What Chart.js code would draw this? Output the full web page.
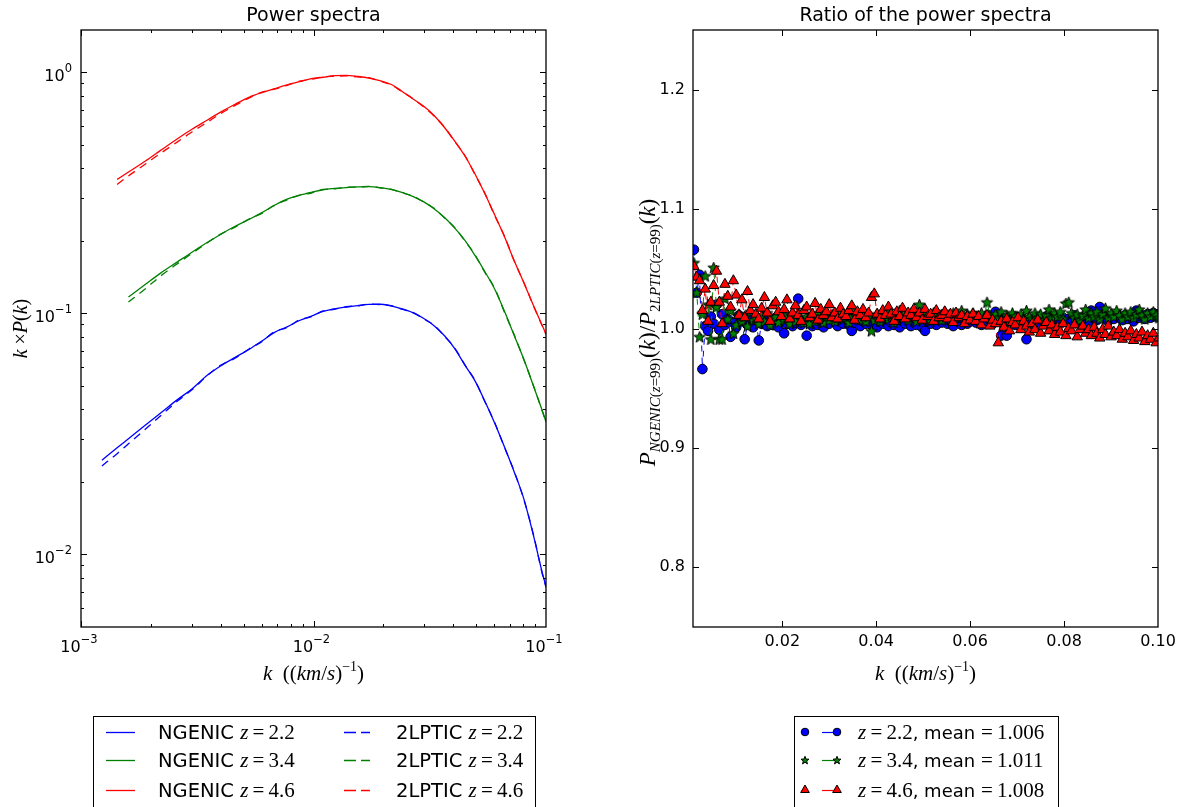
<!DOCTYPE html>
<html><head><meta charset="utf-8">
<script src="https://cdn.jsdelivr.net/npm/chart.js@4/dist/chart.umd.min.js"></script>
<style>
html,body{margin:0;padding:0;background:#fff;}
#wrap{position:relative;width:1187px;height:807px;overflow:hidden;background:#fff;}
canvas{position:absolute;top:0;}
#c1{left:0;width:600px;height:807px;}
#c2{left:600px;width:587px;height:807px;}
</style></head><body>
<div id="wrap"><canvas id="c1" width="600" height="807"></canvas><canvas id="c2" width="587" height="807"></canvas></div>
<script>
// ---------- data: power spectra (left panel) ----------
const kSpec = [0.00123,0.00143,0.0016,0.0019,0.0022,0.0026,0.003,0.0035,0.004,0.0046,0.0053,0.006,0.0068,0.0077,0.0087,0.0098,0.011,0.0123,0.0138,0.0155,0.0173,0.0193,0.0215,0.024,0.0267,0.0297,0.033,0.0366,0.0405,0.0448,0.0495,0.0546,0.0602,0.0663,0.073,0.0803,0.0883,0.097,0.1];
const ngenic22 = [0.0246,0.0277,0.0302,0.0345,0.0386,0.0439,0.0486,0.0555,0.0607,0.0657,0.0711,0.0769,0.0835,0.0880,0.0935,0.0975,0.1020,0.1045,0.1063,0.1078,0.1090,0.1092,0.1075,0.1045,0.1008,0.0955,0.0890,0.0808,0.0715,0.0610,0.0525,0.0432,0.0350,0.0279,0.0220,0.0170,0.0120,0.0082,0.0074];
const lptic22  = [0.0233,0.0262,0.0288,0.0332,0.0376,0.0433,0.0482,0.0553,0.0611,0.0652,0.0714,0.0764,0.0840,0.0874,0.0940,0.0970,0.1024,0.1041,0.1066,0.1075,0.1093,0.1089,0.1078,0.1041,0.1011,0.0951,0.0893,0.0804,0.0718,0.0612,0.0528,0.0430,0.0352,0.0278,0.0221,0.0169,0.0121,0.0081,0.0073];
const ngenic34 = [null,null,0.117,0.1325,0.147,0.1637,0.1795,0.1973,0.2132,0.230,0.246,0.262,0.281,0.298,0.309,0.318,0.326,0.330,0.333,0.335,0.336,0.333,0.327,0.318,0.306,0.291,0.272,0.250,0.226,0.201,0.174,0.149,0.126,0.102,0.081,0.0645,0.050,0.0388,0.0355];
const lptic34  = [null,null,0.1115,0.127,0.143,0.161,0.1775,0.1965,0.2140,0.228,0.247,0.260,0.282,0.296,0.310,0.316,0.327,0.329,0.334,0.334,0.337,0.332,0.328,0.317,0.307,0.290,0.273,0.249,0.227,0.200,0.175,0.148,0.127,0.101,0.0815,0.0642,0.0502,0.0386,0.0354];
const ngenic46 = [null,0.360,0.386,0.430,0.475,0.531,0.581,0.635,0.686,0.738,0.790,0.825,0.857,0.889,0.915,0.942,0.955,0.970,0.972,0.962,0.948,0.925,0.893,0.836,0.778,0.725,0.663,0.591,0.519,0.450,0.379,0.314,0.256,0.208,0.1655,0.134,0.108,0.0878,0.082];
const lptic46  = [null,0.343,0.372,0.418,0.462,0.515,0.566,0.622,0.676,0.730,0.784,0.828,0.852,0.884,0.920,0.936,0.958,0.964,0.968,0.958,0.951,0.921,0.890,0.832,0.780,0.720,0.660,0.593,0.517,0.452,0.377,0.315,0.254,0.209,0.165,0.1345,0.1075,0.0875,0.0818];

// ---------- data: ratio (right panel) ----------
const kRatio = [
0.0012,0.0018,0.0024,0.0030,0.0036,0.0042,0.0048,0.0054,0.0060,0.0066,
0.0072,0.0078,0.0084,0.0090,0.0096,0.0102,0.0108,0.0114,0.0120,0.0126,
0.0132,0.0138,0.0144,0.0150,0.0156,0.0162,0.0168,0.0174,0.0180,0.0186,
0.0192,0.0198,0.0204,0.0210,0.0216,0.0222,0.0228,0.0234,0.0240,0.0246,
0.0252,0.0258,0.0264,0.0270,0.0276,0.0282,0.0288,0.0294,0.0300,0.0306,
0.0312,0.0318,0.0324,0.0330,0.0336,0.0342,0.0348,0.0354,0.0360,0.0366,
0.0372,0.0378,0.0384,0.0390,0.0396,0.0402,0.0408,0.0414,0.0420,0.0426,
0.0432,0.0438,0.0444,0.0450,0.0456,0.0462,0.0468,0.0474,0.0480,0.0486,
0.0492,0.0498,0.0504,0.0510,0.0516,0.0522,0.0528,0.0534,0.0540,0.0546,
0.0552,0.0558,0.0564,0.0570,0.0576,0.0582,0.0588,0.0594,0.0600,0.0606,
0.0612,0.0618,0.0624,0.0630,0.0636,0.0642,0.0648,0.0654,0.0660,0.0666,
0.0672,0.0678,0.0684,0.0690,0.0696,0.0702,0.0708,0.0714,0.0720,0.0726,
0.0732,0.0738,0.0744,0.0750,0.0756,0.0762,0.0768,0.0774,0.0780,0.0786,
0.0792,0.0798,0.0804,0.0810,0.0816,0.0822,0.0828,0.0834,0.0840,0.0846,
0.0852,0.0858,0.0864,0.0870,0.0876,0.0882,0.0888,0.0894,0.0900,0.0906,
0.0912,0.0918,0.0924,0.0930,0.0936,0.0942,0.0948,0.0954,0.0960,0.0966,
0.0972,0.0978,0.0984,0.0990,0.0996,0.1002];
const ratio22 = [
1.066,1.030,1.045,0.966,1.002,0.998,1.010,1.004,1.020,0.999,
1.012,1.003,1.008,0.993,1.005,1.001,1.011,1.006,0.991,1.003,
1.009,1.001,1.007,0.990,1.004,1.008,1.002,1.006,1.003,1.009,
1.001,1.007,0.996,1.004,1.008,1.002,1.005,1.025,1.003,1.006,
0.994,1.006,1.002,1.009,1.003,1.007,1.001,1.005,1.004,1.010,
1.006,1.002,1.007,1.004,1.008,1.003,0.998,1.005,1.007,1.002,
1.006,1.004,1.008,1.003,1.007,1.001,1.006,1.004,1.009,1.002,
1.005,1.003,1.007,1.001,1.006,1.004,1.009,1.002,1.005,1.003,
1.007,1.001,0.998,1.006,1.004,1.008,1.003,1.007,1.005,1.009,
1.004,1.006,1.002,1.008,1.005,1.003,1.007,1.004,1.006,1.009,
1.005,1.008,1.003,1.006,1.011,1.007,1.004,1.014,1.008,0.994,
1.004,0.994,1.008,1.006,1.003,1.009,1.005,1.007,0.991,1.004,
1.007,1.005,1.009,1.004,1.006,1.010,1.003,1.008,1.005,1.007,
1.004,1.009,1.006,1.008,1.005,1.011,1.007,1.009,1.004,1.008,
1.006,1.015,1.009,1.007,1.018,1.011,1.008,1.006,1.010,1.008,
1.012,1.009,1.007,1.011,1.008,1.010,1.006,1.015,1.009,1.011,
1.008,1.012,1.009,1.013,1.010,1.012];
const ratio34 = [
1.055,1.030,0.993,1.012,1.044,1.020,0.991,1.051,1.018,0.991,
0.991,1.025,1.008,1.015,0.996,1.003,1.012,1.006,1.010,1.002,
1.014,1.007,1.009,1.004,1.011,1.006,1.013,1.003,1.008,1.010,
1.005,1.012,1.007,1.009,1.004,1.011,1.006,1.013,1.008,1.005,
1.010,1.004,1.011,1.006,1.013,1.008,1.005,1.010,1.007,1.012,
1.006,1.009,1.014,1.008,1.011,1.005,1.010,1.015,1.009,1.007,
1.012,1.006,1.010,0.998,1.007,1.012,1.006,1.009,1.014,1.008,
1.011,1.005,1.010,1.015,1.009,1.012,1.007,1.013,1.010,1.006,
1.020,1.007,1.012,1.010,1.006,1.013,1.009,1.011,1.007,1.014,
1.010,1.008,1.013,1.009,1.011,1.015,1.007,1.012,1.009,1.013,
1.010,1.008,1.013,1.009,1.022,1.011,1.007,1.012,1.009,1.014,
1.008,1.011,1.006,1.013,1.010,1.007,1.012,1.009,1.015,1.010,
1.008,1.013,1.009,1.012,1.007,1.011,1.016,1.009,1.013,1.010,
1.014,1.008,1.021,1.022,1.013,1.009,1.012,1.007,1.011,1.016,
1.009,1.013,1.010,1.014,1.008,1.012,1.017,1.009,1.013,1.010,
1.015,1.011,1.008,1.013,1.010,1.014,1.009,1.012,1.016,1.011,
1.008,1.013,1.010,1.014,1.011,1.009];
const ratio46 = [
1.052,1.043,1.040,1.015,1.033,1.006,1.022,1.036,1.048,1.022,
1.004,1.037,1.027,1.018,1.040,1.028,1.011,1.024,1.009,1.031,
1.015,1.020,1.012,1.008,1.017,1.026,1.013,1.006,1.019,1.022,
1.014,1.010,1.016,1.024,1.008,1.013,1.019,1.011,1.006,1.015,
1.018,1.009,1.012,1.021,1.007,1.016,1.011,1.014,1.020,1.009,
1.013,1.008,1.017,1.012,1.010,1.015,1.019,1.007,1.014,1.011,
1.016,1.009,1.013,1.026,1.029,1.012,1.008,1.015,1.011,1.018,
1.012,1.006,1.014,1.010,1.017,1.008,1.013,1.011,1.016,1.009,
1.013,1.007,1.016,1.010,1.012,1.006,1.015,1.009,1.011,1.014,
1.008,1.012,1.005,1.013,1.009,1.011,1.004,1.010,1.007,1.012,
1.006,1.010,1.003,1.008,1.011,1.002,1.007,1.004,0.988,1.006,
1.001,1.008,0.998,1.005,1.003,1.009,0.999,1.006,1.002,0.997,
1.004,0.999,1.007,0.996,1.002,1.005,0.998,1.003,0.995,1.001,
0.997,1.004,0.994,1.000,0.998,1.003,0.993,0.999,1.002,0.996,
0.999,0.994,1.001,0.996,0.992,0.999,0.995,1.002,0.993,0.997,
0.994,0.999,0.991,0.996,0.993,0.998,0.990,0.995,0.992,0.997,
0.989,0.994,0.991,0.996,0.988,0.992];

// ---------- labels / ticks ----------
const zLabels = ['2.2','3.4','4.6'];
const meanLabels = ['1.006','1.011','1.008'];
const specXTicks = [0.001,0.01,0.1];
const specXExp = ['\u22123','\u22122','\u22121'];
const specYTicks = [0.01,0.1,1];
const specYExp = ['\u22122','\u22121','0'];
const specXMinor = [0.002,0.003,0.004,0.005,0.006,0.007,0.008,0.009,0.02,0.03,0.04,0.05,0.06,0.07,0.08,0.09];
const specYMinor = [0.006,0.007,0.008,0.009,0.02,0.03,0.04,0.05,0.06,0.07,0.08,0.09,0.2,0.3,0.4,0.5,0.6,0.7,0.8,0.9];
const ratXTicks = [0.02,0.04,0.06,0.08,0.10];
const ratXTickLabels = ['0.02','0.04','0.06','0.08','0.10'];
const ratYTicks = [0.8,0.9,1.0,1.1,1.2];
const ratYTickLabels = ['0.8','0.9','1.0','1.1','1.2'];

// ---------- styling ----------
const BLUE='#0000ff', GREEN='#008000', RED='#ff0000';
const SANSF = 'DejaVu Sans';
const SERIF = '"Liberation Serif", "DejaVu Serif", serif';
const fI = s => `italic ${s}px ${SERIF}`;
const fR = s => `${s}px ${SERIF}`;
const fS = s => `${s}px "DejaVu Sans", sans-serif`;

function pts(xs, ys){ return xs.map((x,i)=>({x:x, y:ys[i]})); }

function starCanvas(r){
  const s = Math.ceil(r*2+3);
  const c = document.createElement('canvas'); c.width=s; c.height=s;
  const g = c.getContext('2d'); const cx=s/2, cy=s/2+0.5;
  g.beginPath();
  for(let i=0;i<10;i++){ const rr = (i%2)? r*0.42 : r; const a = -Math.PI/2 + i*Math.PI/5; g.lineTo(cx+rr*Math.cos(a), cy+rr*Math.sin(a)); }
  g.closePath(); g.fillStyle=GREEN; g.fill(); g.strokeStyle='#000'; g.lineWidth=1; g.stroke();
  return c;
}
const starBig = starCanvas(6), starSmall = starCanvas(4.2);

function segW(ctx, segs){ let w=0; for(const s of segs){ ctx.font=s.f; w+=ctx.measureText(s.t).width; } return w; }
function rich(ctx, segs, x, y, align){
  const w = segW(ctx, segs);
  let cx = align==='center' ? x-w/2 : (align==='right' ? x-w : x);
  ctx.textAlign='left'; ctx.textBaseline='alphabetic';
  for(const s of segs){ ctx.font=s.f; ctx.fillText(s.t, cx, y+(s.dy||0)); cx += ctx.measureText(s.t).width; }
}

function frameTicks(chart, xMaj, xMin, yMaj, yMin){
  const {ctx, chartArea:a, scales:{x, y}} = chart;
  ctx.save(); ctx.strokeStyle='#000'; ctx.lineWidth=1; ctx.setLineDash([]);
  ctx.beginPath();
  const vt=(vals,len)=>{ for(const v of vals){ const p=Math.round(x.getPixelForValue(v))+0.5; if(p<a.left||p>a.right) continue; ctx.moveTo(p,a.bottom); ctx.lineTo(p,a.bottom-len); ctx.moveTo(p,a.top); ctx.lineTo(p,a.top+len);} };
  const ht=(vals,len)=>{ for(const v of vals){ const p=Math.round(y.getPixelForValue(v))+0.5; if(p<a.top||p>a.bottom) continue; ctx.moveTo(a.left,p); ctx.lineTo(a.left+len,p); ctx.moveTo(a.right,p); ctx.lineTo(a.right-len,p);} };
  vt(xMaj,6); vt(xMin,3); ht(yMaj,6); ht(yMin,3);
  ctx.stroke();
  ctx.lineWidth=1.3;
  ctx.strokeRect(a.left, a.top, a.right-a.left, a.bottom-a.top);
  ctx.restore();
}

const xLabelSegs = [{t:'k',f:fI(21)},{t:'  ((',f:fR(21)},{t:'km',f:fI(21)},{t:'/',f:fR(21)},{t:'s',f:fI(21)},{t:')',f:fR(21)},{t:'\u22121',f:fR(14),dy:-9},{t:')',f:fR(21)}];

const deco1 = {
  id:'deco1',
  afterDatasetsDraw(chart){ frameTicks(chart, specXTicks, specXMinor, specYTicks, specYMinor); },
  afterDraw(chart){
    const ctx = chart.ctx, a = chart.chartArea, sx = chart.scales.x, sy = chart.scales.y;
    ctx.save(); ctx.fillStyle='#000';
    specXTicks.forEach((v,i)=>{ rich(ctx, [{t:'10',f:fS(16)},{t:specXExp[i],f:fS(11.5),dy:-9}], sx.getPixelForValue(v)-2, 652, 'center'); });
    specYTicks.forEach((v,i)=>{ const p=sy.getPixelForValue(v); rich(ctx, [{t:'10',f:fS(16)},{t:specYExp[i],f:fS(11.5),dy:-9}], a.left-9, p+9, 'right'); });
    ctx.font = fS(19); ctx.textAlign='center'; ctx.textBaseline='alphabetic';
    ctx.fillText('Power spectra', (a.left+a.right)/2, 21);
    rich(ctx, xLabelSegs, (a.left+a.right)/2, 680, 'center');
    ctx.save(); ctx.translate(27, (a.top+a.bottom)/2); ctx.rotate(-Math.PI/2);
    rich(ctx, [{t:'k',f:fI(20)},{t:' \u00D7',f:fR(20)},{t:'P',f:fI(20)},{t:'(',f:fR(20)},{t:'k',f:fI(20)},{t:')',f:fR(20)}], 0, 0, 'center');
    ctx.restore();
    // legend
    ctx.fillStyle='#fff'; ctx.fillRect(93,716,442,120);
    ctx.strokeStyle='#000'; ctx.lineWidth=1; ctx.strokeRect(93.5,716.5,442,120);
    const cols=[BLUE,GREEN,RED], ys=[732,760,790];
    for(let i=0;i<3;i++){
      const yc=ys[i];
      ctx.strokeStyle=cols[i]; ctx.lineWidth=1.3;
      ctx.setLineDash([]); ctx.beginPath(); ctx.moveTo(106,yc+0.5); ctx.lineTo(135,yc+0.5); ctx.stroke();
      ctx.setLineDash([12,5]); ctx.beginPath(); ctx.moveTo(344,yc+0.5); ctx.lineTo(370,yc+0.5); ctx.stroke();
      ctx.setLineDash([]);
      ctx.fillStyle='#000';
      const zs=[{t:'z',f:fI(21)},{t:'\u2009=\u2009',f:fR(21)},{t:zLabels[i],f:fR(21)}];
      rich(ctx, [{t:'NGENIC ',f:fS(19.5)}].concat(zs), 158, yc+7, 'left');
      rich(ctx, [{t:'2LPTIC ',f:fS(19.5)}].concat(zs), 396, yc+7, 'left');
    }
    ctx.restore();
  }
};

const deco2 = {
  id:'deco2',
  afterDatasetsDraw(chart){ frameTicks(chart, ratXTicks, [], ratYTicks, []); },
  afterDraw(chart){
    const ctx = chart.ctx, a = chart.chartArea, OX = 600;
    ctx.save(); ctx.fillStyle='#000';
    ctx.font = fS(19); ctx.textAlign='center'; ctx.textBaseline='alphabetic';
    ctx.fillText('Ratio of the power spectra', (a.left+a.right)/2, 21);
    rich(ctx, xLabelSegs, (a.left+a.right)/2, 680, 'center');
    ctx.save(); ctx.translate(655-OX, (a.top+a.bottom)/2 + 4); ctx.rotate(-Math.PI/2);
    const sub=(parts)=>parts.map(p=>({t:p[0],f:p[1]?fI(15):fR(15),dy:5}));
    rich(ctx, [{t:'P',f:fI(23)}].concat(sub([['NGENIC',1],['(',0],['z',1],['=99)',0]]),
      [{t:'(',f:fR(23)},{t:'k',f:fI(23)},{t:')/',f:fR(23)},{t:'P',f:fI(23)}],
      sub([['2',0],['LPTIC',1],['(',0],['z',1],['=99)',0]]),
      [{t:'(',f:fR(23)},{t:'k',f:fI(23)},{t:')',f:fR(23)}]), 0, 0, 'center');
    ctx.restore();
    // legend
    const L=794-OX;
    ctx.fillStyle='#fff'; ctx.fillRect(L,716,264,120);
    ctx.strokeStyle='#000'; ctx.lineWidth=1; ctx.strokeRect(L+0.5,716.5,264,120);
    const cols=[BLUE,GREEN,RED], ys=[732,760,790];
    for(let i=0;i<3;i++){
      const yc=ys[i];
      ctx.strokeStyle=cols[i]; ctx.lineWidth=1.2;
      ctx.beginPath(); ctx.moveTo(822-OX,yc+0.5); ctx.lineTo(837-OX,yc+0.5); ctx.stroke();
      for(const mx of [805-OX, 837-OX]){
        if(i===0){ ctx.beginPath(); ctx.arc(mx,yc,3.8,0,Math.PI*2); ctx.fillStyle=BLUE; ctx.fill(); ctx.strokeStyle='#000'; ctx.lineWidth=1; ctx.stroke(); }
        else if(i===1){ ctx.drawImage(starSmall, mx-starSmall.width/2, yc-starSmall.height/2); }
        else { const r=5; ctx.beginPath(); ctx.moveTo(mx,yc-r); ctx.lineTo(mx+r*0.866,yc+r*0.5); ctx.lineTo(mx-r*0.866,yc+r*0.5); ctx.closePath(); ctx.fillStyle=RED; ctx.fill(); ctx.strokeStyle='#000'; ctx.lineWidth=1; ctx.stroke(); }
      }
      ctx.fillStyle='#000';
      rich(ctx, [{t:'z',f:fI(21)},{t:'\u2009=\u2009',f:fR(21)},{t:zLabels[i],f:fR(21)},{t:', mean ',f:fS(18)},{t:'=\u2009',f:fR(21)},{t:meanLabels[i],f:fR(21)}], 858-OX, yc+7, 'left');
    }
    ctx.restore();
  }
};

const tickFont = {family:SANSF, size:16};
const lineDS = (label, ys, color, dashed) => ({label, data: pts(kSpec, ys), borderColor: color, backgroundColor: color, borderWidth: 1.3, borderDash: dashed? [8,6] : [], pointRadius: 0, fill: false, cubicInterpolationMode:'monotone', spanGaps: false});

new Chart(document.getElementById('c1'), {
  type:'line',
  data:{ datasets:[
    lineDS('NGENIC z=2.2', ngenic22, BLUE, false),
    lineDS('NGENIC z=3.4', ngenic34, GREEN, false),
    lineDS('NGENIC z=4.6', ngenic46, RED, false),
    lineDS('2LPTIC z=2.2', lptic22, BLUE, true),
    lineDS('2LPTIC z=3.4', lptic34, GREEN, true),
    lineDS('2LPTIC z=4.6', lptic46, RED, true)
  ]},
  options:{
    responsive:false, animation:false, devicePixelRatio:1, events:[],
    layout:{autoPadding:false, padding:{left:0, top:30, right:54, bottom:140}},
    plugins:{legend:{display:false}, tooltip:{enabled:false}, title:{display:false}},
    scales:{
      x:{type:'logarithmic', min:0.001, max:0.1, bounds:'data',
         afterBuildTicks: s => { s.ticks = specXTicks.map(v=>({value:v})); },
         afterFit: s => { s.height = 40; },
         grid:{display:false, drawTicks:false}, border:{display:false},
         ticks:{display:false}},
      y:{type:'logarithmic', min:0.005, max:1.5, bounds:'data',
         afterBuildTicks: s => { s.ticks = specYTicks.map(v=>({value:v})); },
         afterFit: s => { s.width = 81; },
         grid:{display:false, drawTicks:false}, border:{display:false},
         ticks:{display:false}}
    }
  },
  plugins:[deco1]
});

const ratDS = (label, ys, color, style, radius, order) => ({label, data: pts(kRatio, ys), showLine:true, borderColor: color, borderWidth:1, borderDash:[6,6], pointStyle: style, pointRadius: radius, pointBackgroundColor: color, pointBorderColor:'#000', pointBorderWidth:1, fill:false, tension:0, order});

new Chart(document.getElementById('c2'), {
  type:'line',
  data:{ datasets:[
    ratDS('z=2.2, mean=1.006', ratio22, BLUE, 'circle', 4.8, 2),
    ratDS('z=3.4, mean=1.011', ratio34, GREEN, starBig, 6, 1),
    ratDS('z=4.6, mean=1.008', ratio46, RED, 'triangle', 6, 0)
  ]},
  options:{
    responsive:false, animation:false, devicePixelRatio:1, events:[],
    layout:{autoPadding:false, padding:{left:0, top:30, right:29, bottom:140}},
    plugins:{legend:{display:false}, tooltip:{enabled:false}, title:{display:false}},
    scales:{
      x:{type:'linear', min:0.001, max:0.1, bounds:'data',
         afterBuildTicks: s => { s.ticks = ratXTicks.map(v=>({value:v})); },
         afterFit: s => { s.height = 40; },
         grid:{display:false, drawTicks:false}, border:{display:false},
         ticks:{autoSkip:false, maxRotation:0, padding:5, color:'#000', font:tickFont, callback:(v,i)=>ratXTickLabels[i]}},
      y:{type:'linear', min:0.75, max:1.25, bounds:'data',
         afterBuildTicks: s => { s.ticks = ratYTicks.map(v=>({value:v})); },
         afterFit: s => { s.width = 93; },
         grid:{display:false, drawTicks:false}, border:{display:false},
         ticks:{autoSkip:false, padding:8, color:'#000', font:tickFont, callback:(v,i)=>ratYTickLabels[i]}}
    }
  },
  plugins:[deco2]
});
</script>
</body></html>
